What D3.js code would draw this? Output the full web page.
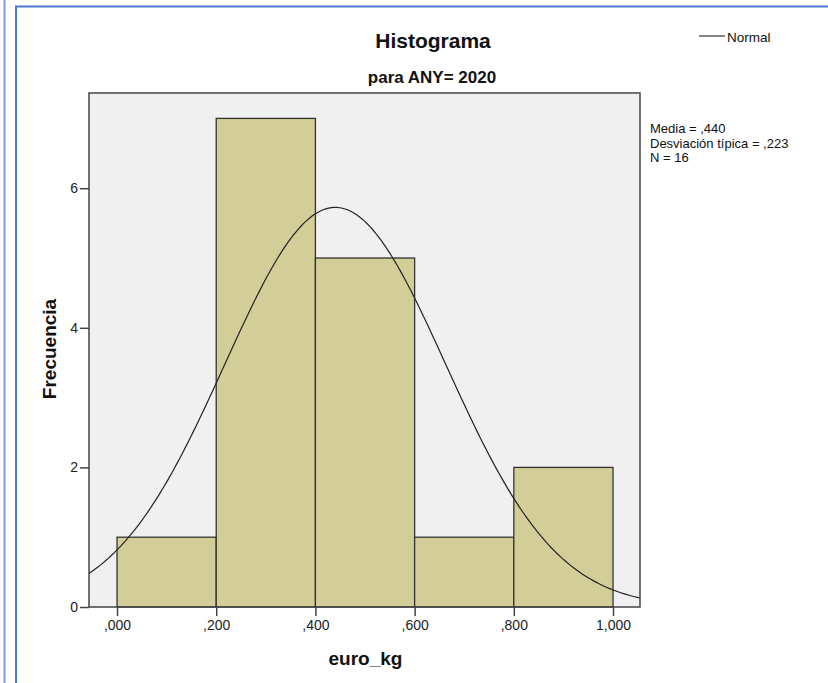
<!DOCTYPE html>
<html><head><meta charset="utf-8">
<script src="https://cdn.jsdelivr.net/npm/d3@7"></script>
<style>body{margin:0;background:#fff;}svg{display:block;font-family:"Liberation Sans",Arial,sans-serif;}</style>
</head><body>
<script>
const binStarts = [0.0, 0.2, 0.4, 0.6, 0.8];
const binWidth = 0.2;
const counts = [1, 7, 5, 1, 2];
const xTicks = [0, 0.2, 0.4, 0.6, 0.8, 1.0];
const xTickLabels = [",000", ",200", ",400", ",600", ",800", "1,000"];
const yTicks = [0, 2, 4, 6];
const mean = 0.440, sd = 0.223, n = 16;
const statsLines = ["Media = ,440", "Desviación típica = ,223", "N = 16"];

const W = 828, H = 683;
const svg = d3.select("body").append("svg").attr("width", W).attr("height", H);

// blue frames
svg.append("line").attr("x1", 4.5).attr("x2", 4.5).attr("y1", 0).attr("y2", H)
  .attr("stroke", "#7d9ee0").attr("stroke-width", 2);
svg.append("path").attr("d", `M16,${H} V6.5 H${W}`).attr("fill", "none")
  .attr("stroke", "#4a78d0").attr("stroke-width", 2);

const L = 89, R = 640, T = 93, B = 607;
const x = d3.scaleLinear().domain([-0.0565, 1.0544]).range([L, R]);
const y = d3.scaleLinear().domain([0, 7.364]).range([B, T]);

svg.append("rect").attr("x", L).attr("y", T).attr("width", R - L).attr("height", B - T)
  .attr("fill", "#f0f0f0");

svg.selectAll("rect.bar").data(binStarts).enter().append("rect").attr("class", "bar")
  .attr("x", d => x(d)).attr("width", d => x(d + binWidth) - x(d))
  .attr("y", (d, i) => y(counts[i])).attr("height", (d, i) => y(0) - y(counts[i]))
  .attr("fill", "#d3ce98").attr("stroke", "#333").attr("stroke-width", 1.3);

// normal curve
const xs = d3.range(0, 201).map(i => x.domain()[0] + (x.domain()[1] - x.domain()[0]) * i / 200);
const dens = v => n * binWidth / (sd * Math.sqrt(2 * Math.PI)) * Math.exp(-0.5 * ((v - mean) / sd) ** 2);
svg.append("clipPath").attr("id", "c").append("rect").attr("x", L).attr("y", T).attr("width", R - L).attr("height", B - T);
svg.append("path").datum(xs).attr("clip-path", "url(#c)")
  .attr("d", d3.line().x(d => x(d)).y(d => y(dens(d))))
  .attr("fill", "none").attr("stroke", "#222").attr("stroke-width", 1.2);

svg.append("rect").attr("x", L).attr("y", T).attr("width", R - L).attr("height", B - T)
  .attr("fill", "none").attr("stroke", "#444").attr("stroke-width", 1.5);

// axes
const xAxis = svg.append("g").attr("transform", `translate(0,${B})`)
  .call(d3.axisBottom(x).tickValues(xTicks).tickFormat((d, i) => xTickLabels[i]).tickSize(9).tickPadding(4));
const yAxis = svg.append("g").attr("transform", `translate(${L},0)`)
  .call(d3.axisLeft(y).tickValues(yTicks).tickSize(9).tickPadding(2));
[xAxis, yAxis].forEach(g => {
  g.select(".domain").remove();
  g.selectAll(".tick line").attr("stroke", "#444").attr("stroke-width", 1.5);
  g.selectAll(".tick text").attr("fill", "#222").style("font-size", "14px").style("font-family", "Liberation Sans, Arial, sans-serif");
});

// titles
svg.append("text").attr("x", 433).attr("y", 48).attr("text-anchor", "middle")
  .style("font-size", "21px").style("font-weight", "bold").attr("fill", "#111").text("Histograma");
svg.append("text").attr("x", 432).attr("y", 83).attr("text-anchor", "middle")
  .style("font-size", "17px").style("font-weight", "bold").attr("fill", "#111").text("para ANY= 2020");
svg.append("text").attr("x", 365.5).attr("y", 665).attr("text-anchor", "middle")
  .style("font-size", "19px").style("font-weight", "bold").attr("fill", "#111").text("euro_kg");
svg.append("text").attr("transform", "translate(56,349) rotate(-90)").attr("text-anchor", "middle")
  .style("font-size", "19px").style("font-weight", "bold").attr("fill", "#111").text("Frecuencia");

// legend
svg.append("line").attr("x1", 699).attr("x2", 725).attr("y1", 36).attr("y2", 36).attr("stroke", "#333").attr("stroke-width", 1.2);
svg.append("text").attr("x", 727).attr("y", 41.5).style("font-size", "13.5px").attr("fill", "#111").text("Normal");

svg.append("g").selectAll("text").data(statsLines).enter().append("text")
  .attr("x", 650).attr("y", (d, i) => 133 + i * 14.5).style("font-size", "13px").attr("fill", "#111").text(d => d);
</script>
</body></html>
